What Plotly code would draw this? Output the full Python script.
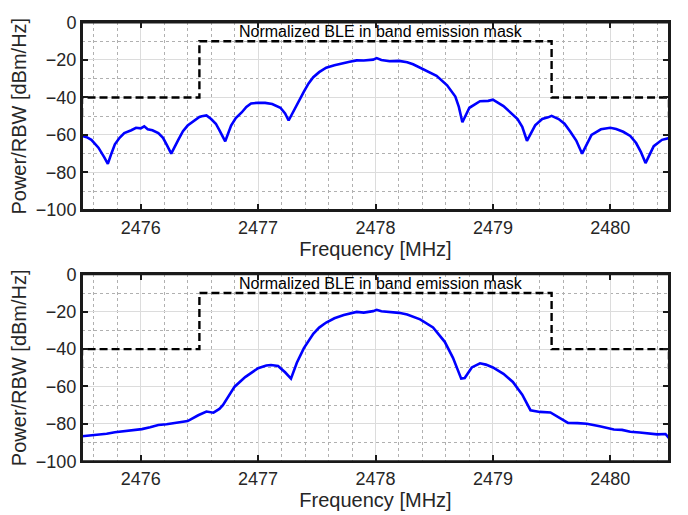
import plotly.graph_objects as go

# ---------------- data ----------------
freq_top = [2475.50, 2475.54, 2475.58, 2475.64, 2475.69, 2475.72, 2475.75, 2475.78, 2475.82, 2475.86, 2475.92, 2475.96,
            2476.00, 2476.03, 2476.06, 2476.10, 2476.15, 2476.19, 2476.22, 2476.26, 2476.32, 2476.36, 2476.40, 2476.46, 2476.50, 2476.52,
            2476.56, 2476.60, 2476.64, 2476.67, 2476.72, 2476.77, 2476.81, 2476.86, 2476.90, 2476.94, 2477.00, 2477.06, 2477.12,
            2477.19, 2477.23, 2477.26, 2477.31, 2477.35, 2477.39, 2477.43, 2477.47, 2477.52, 2477.58, 2477.65, 2477.73, 2477.78, 2477.84, 2477.90, 2477.98,
            2478.01, 2478.05, 2478.12, 2478.20, 2478.27, 2478.32, 2478.38, 2478.45, 2478.52, 2478.61, 2478.68, 2478.71, 2478.74, 2478.80, 2478.89,
            2478.96, 2479.00, 2479.09, 2479.17, 2479.21, 2479.25, 2479.29, 2479.36, 2479.42, 2479.47, 2479.50, 2479.56, 2479.61, 2479.66,
            2479.71, 2479.76, 2479.84, 2479.92, 2480.00, 2480.05, 2480.11, 2480.17, 2480.22, 2480.26, 2480.30, 2480.37, 2480.44, 2480.50]
power_top = [-60.5, -61.2, -62.6, -66.8, -72.0, -75.4, -70.0, -65.0, -61.5, -59.0, -57.5, -56.2,
             -56.5, -55.4, -57.0, -57.5, -59.0, -61.5, -65.0, -70.0, -62.6, -58.0, -55.0, -52.0, -50.4, -50.0,
             -49.6, -51.5, -54.0, -57.4, -63.4, -55.0, -51.0, -48.0, -45.0, -43.2, -42.8, -42.9, -43.5,
             -45.5, -48.5, -52.3, -46.3, -41.0, -36.9, -32.5, -29.2, -26.5, -24.1, -22.8, -21.5, -21.0, -20.2, -20.3, -19.8,
             -19.0, -20.0, -20.7, -20.5, -21.2, -22.3, -24.1, -26.0, -28.4, -33.5, -39.5, -45.0, -53.2, -45.5, -42.0,
             -41.8, -41.2, -44.6, -48.9, -51.5, -55.7, -63.1, -54.9, -51.5, -50.6, -49.8, -51.5, -54.0, -58.3,
             -63.0, -70.0, -60.0, -57.0, -56.2, -56.8, -58.3, -60.5, -64.3, -69.0, -75.0, -66.0, -62.6, -61.7]

freq_bot = [2475.50, 2475.57, 2475.64, 2475.71, 2475.78, 2475.89, 2476.01, 2476.08, 2476.15, 2476.22, 2476.29, 2476.40, 2476.49, 2476.56,
            2476.62, 2476.67, 2476.70, 2476.73, 2476.80, 2476.89, 2476.95, 2477.00, 2477.07, 2477.11, 2477.17, 2477.23, 2477.28, 2477.33,
            2477.39, 2477.47, 2477.52, 2477.58, 2477.65, 2477.73, 2477.84, 2477.90, 2477.98, 2478.01, 2478.05, 2478.12, 2478.20, 2478.27, 2478.38, 2478.49,
            2478.59, 2478.66, 2478.73, 2478.76, 2478.82, 2478.89, 2478.94, 2479.00, 2479.09, 2479.17, 2479.25,
            2479.32, 2479.40, 2479.49, 2479.56, 2479.64, 2479.72, 2479.80, 2479.91, 2480.03, 2480.10, 2480.17, 2480.25, 2480.34,
            2480.40, 2480.47, 2480.50]
power_bot = [-86.6, -86.2, -85.7, -85.3, -84.5, -83.7, -82.8, -81.8, -80.6, -80.2, -79.4, -78.5, -75.4, -73.4,
             -74.0, -72.0, -70.0, -67.0, -60.1, -55.0, -52.5, -50.2, -48.8, -48.5, -49.0, -52.4, -55.8, -47.3,
             -39.5, -31.8, -28.5, -25.8, -23.5, -21.8, -20.1, -20.5, -19.7, -19.0, -19.8, -20.1, -20.6, -21.5, -24.1, -28.4,
             -36.1, -44.7, -55.8, -55.5, -49.8, -47.6, -48.3, -49.8, -53.2, -57.6, -64.4,
             -72.7, -73.6, -73.9, -76.4, -79.5, -79.6, -79.9, -81.3, -83.0, -83.2, -84.2, -84.6, -85.0,
             -85.6, -85.4, -87.6]

mask_freq = [2475.40, 2475.50, 2475.50, 2476.50, 2476.50, 2479.50, 2479.50, 2480.50, 2480.50, 2480.60]
mask_level = [-50, -50, -40, -40, -10, -10, -40, -40, -50, -50]

mask_label = "Normalized BLE in band emission mask"
x_title = "Frequency [MHz]"
y_title = "Power/RBW [dBm/Hz]"

# ---------------- layout geometry ----------------
W, H = 688, 515
X_RANGE = [2475.5, 2480.5]
Y_RANGE = [-100, 0]
LEFT_PX, RIGHT_PX = 82, 669
TOP1, BOT1 = 13, 208
TOP2, BOT2 = 275, 469.5

xdom = [LEFT_PX / W, RIGHT_PX / W]
ydom1 = [1 - BOT1 / H, 1 - TOP1 / H]
ydom2 = [1 - BOT2 / H, 1 - TOP2 / H]

FONT = "Liberation Sans, Arial, Helvetica, sans-serif"
TXT = "#262626"
FRAME = "#1a1a1a"
BLUE = "#0000ff"

fig = go.Figure()

for xa, ya, fx, py in [("x", "y", freq_top, power_top), ("x2", "y2", freq_bot, power_bot)]:
    fig.add_trace(go.Scatter(x=fx, y=py, mode="lines", xaxis=xa, yaxis=ya,
                             line=dict(color=BLUE, width=2.6), showlegend=False, hoverinfo="skip"))
    fig.add_trace(go.Scatter(x=mask_freq, y=mask_level, mode="lines", xaxis=xa, yaxis=ya,
                             line=dict(color="black", width=2.4, dash="8px,4px"),
                             showlegend=False, hoverinfo="skip"))

def xaxis_style(domain, anchor):
    return dict(domain=domain, anchor=anchor, range=X_RANGE,
                tickmode="linear", tick0=2476, dtick=1,
                showline=True, mirror="ticks", linecolor=FRAME, linewidth=2,
                ticks="inside", ticklen=6, tickwidth=1.8, tickcolor=FRAME,
                showgrid=True, gridcolor="#dcdcdc", gridwidth=1,
                minor=dict(dtick=0.2, showgrid=True, gridcolor="#b0b0b0", griddash="dot", gridwidth=1),
                tickfont=dict(family=FONT, size=18, color=TXT),
                title=dict(text=x_title, font=dict(family=FONT, size=20, color=TXT), standoff=0),
                zeroline=False)

def yaxis_style(domain, anchor):
    return dict(domain=domain, anchor=anchor, range=Y_RANGE,
                tickmode="linear", tick0=0, dtick=20,
                showline=True, mirror="ticks", linecolor=FRAME, linewidth=2,
                ticks="inside", ticklen=6, tickwidth=1.8, tickcolor=FRAME,
                showgrid=True, gridcolor="#dcdcdc", gridwidth=1,
                minor=dict(dtick=10, showgrid=True, gridcolor="#b0b0b0", griddash="dot", gridwidth=1),
                tickfont=dict(family=FONT, size=18, color=TXT),
                title=dict(text=y_title, font=dict(family=FONT, size=20, color=TXT), standoff=4),
                zeroline=False)

# axes frame boxes (drawn in axis-domain coordinates)
frames = [dict(type="rect", xref=f"{xr} domain", yref=f"{yr} domain", x0=0, x1=1, y0=0, y1=1,
               line=dict(color=FRAME, width=2), fillcolor="rgba(0,0,0,0)", layer="above")
          for xr, yr in [("x", "y"), ("x2", "y2")]]

fig.update_layout(
    width=W, height=H,
    margin=dict(l=0, r=0, t=0, b=0),
    paper_bgcolor="white", plot_bgcolor="white",
    xaxis=xaxis_style(xdom, "y"),
    yaxis=yaxis_style(ydom1, "x"),
    xaxis2=xaxis_style(xdom, "y2"),
    yaxis2=yaxis_style(ydom2, "x2"),
    shapes=frames,
    annotations=[
        dict(text=mask_label, x=2478.05, y=-5, xref=xr, yref=yr, showarrow=False,
             font=dict(family=FONT, size=16, color="black"), xanchor="center", yanchor="middle")
        for xr, yr in [("x", "y"), ("x2", "y2")]
    ],
)

fig.write_html("out.html")
